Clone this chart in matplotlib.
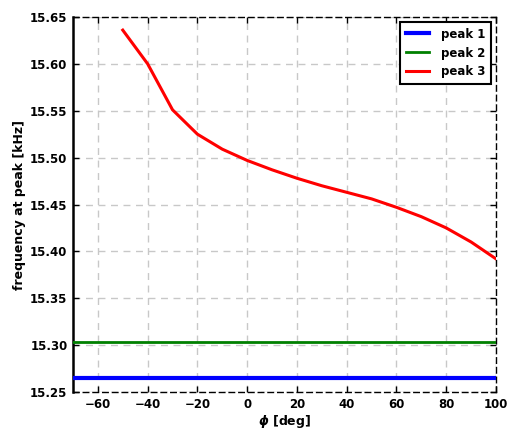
import matplotlib.pyplot as plt

# Data
phi_full = [-70, 100]
peak1 = [15.265, 15.265]
peak2 = [15.303, 15.303]

phi3 = [-50, -40, -30, -20, -10, 0, 10, 20, 30, 40, 50, 60, 70, 80, 90, 100]
peak3 = [15.636, 15.600, 15.551, 15.525, 15.509, 15.497, 15.487, 15.478,
         15.470, 15.463, 15.456, 15.447, 15.437, 15.425, 15.410, 15.392]

xticks = [-60, -40, -20, 0, 20, 40, 60, 80, 100]
yticks = [15.25, 15.30, 15.35, 15.40, 15.45, 15.50, 15.55, 15.60, 15.65]

plt.rcParams['font.weight'] = 'bold'
plt.rcParams['font.size'] = 8.5

fig = plt.figure(figsize=(5.08, 4.29), dpi=100)
ax = fig.add_axes([0.1437, 0.0862, 0.8327, 0.8742])

ax.plot(phi_full, peak1, color='blue', linewidth=3, label='peak 1', zorder=3)
ax.plot(phi_full, peak2, color='green', linewidth=2, label='peak 2', zorder=3)
ax.plot(phi3, peak3, color='red', linewidth=2.2, label='peak 3', zorder=3)

ax.set_xlim(-70, 100)
ax.set_ylim(15.25, 15.65)
ax.set_xticks(xticks)
ax.set_yticks(yticks)
ax.set_yticklabels(['%.2f' % v for v in yticks])

ax.grid(True, color='#c8c8c8', linestyle=(0, (5, 4)), linewidth=1)
ax.set_axisbelow(True)

ax.tick_params(direction='in', length=4, width=1, top=True, right=True,
               labelsize=8.5, pad=4)

for side in ['top', 'right', 'bottom']:
    ax.spines[side].set_linestyle((0, (4, 3)))
    ax.spines[side].set_linewidth(1)
ax.spines['left'].set_linewidth(1.8)

ax.set_xlabel(r'$\phi$ [deg]', fontsize=9, fontweight='bold', labelpad=2)
ax.set_ylabel('frequency at peak [kHz]', fontsize=9, fontweight='bold', labelpad=3)

leg = ax.legend(loc='upper right', fontsize=8.5, fancybox=False, framealpha=1,
                edgecolor='black', handlelength=2.0, handletextpad=1.0,
                borderaxespad=0.45, labelspacing=0.5, borderpad=0.45)
leg.get_frame().set_linewidth(1.5)

plt.savefig('out.png', dpi=100)
